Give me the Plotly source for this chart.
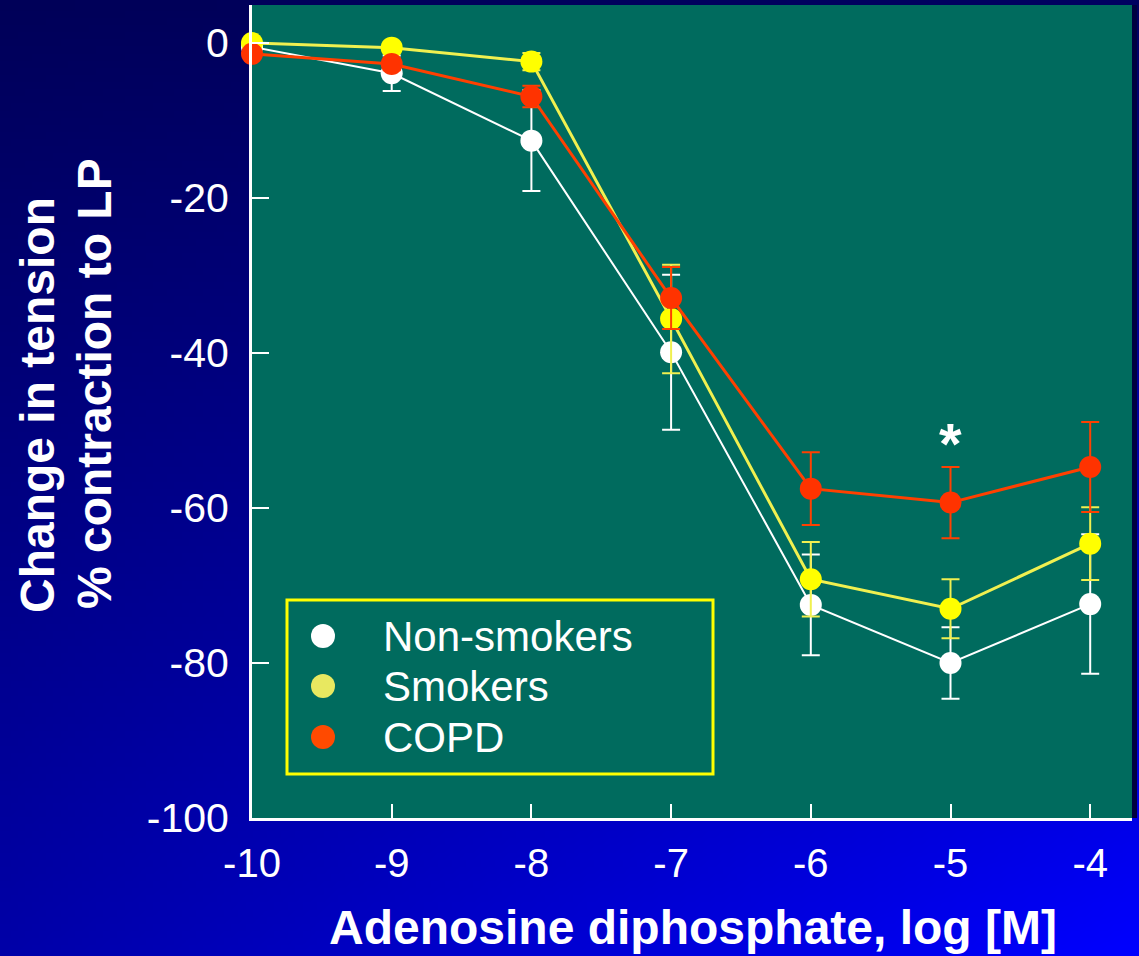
import base64
import struct
import zlib

import plotly.graph_objects as go

# ---- data -------------------------------------------------------------
log_conc = [-10, -9, -8, -7, -6, -5, -4]

nonsmokers = [-0.5, -3.9, -12.6, -39.9, -72.5, -80.0, -72.4]
nonsmokers_err = [0.5, 2.3, 6.5, 10.0, 6.5, 4.6, 9.0]

smokers = [0.0, -0.6, -2.4, -35.6, -69.2, -73.0, -64.6]
smokers_err = [0.3, 0.5, 1.1, 7.0, 4.8, 3.8, 4.7]

copd = [-1.4, -2.7, -6.9, -32.9, -57.5, -59.3, -54.7]
copd_err = [0.5, 0.8, 1.4, 4.0, 4.7, 4.6, 5.8]

y_ticks = [0, -20, -40, -60, -80, -100]
x_ticks = [-10, -9, -8, -7, -6, -5, -4]

legend_names = ["Non-smokers", "Smokers", "COPD"]
legend_colors = ["#FFFFFF", "#E8E860", "#FF4A00"]

# ---- geometry (pixels) ---------------------------------------------------
W, H = 1139, 956
ML, MR, MT, MB = 252, 7, 5, 138
PW, PH = W - ML - MR, H - MT - MB

TEAL = "#006B5E"


def px_x(px):
    return (px - ML) / PW


def px_y(py):
    return (H - MB - py) / PH


# ---- diagonal blue background as an embedded PNG -------------------------
def gradient_png(w, h):
    tl, tr, bl, br = 88, 96, 168, 255
    raw = bytearray()
    for j in range(h):
        v = j / (h - 1)
        raw.append(0)
        for i in range(w):
            u = i / (w - 1)
            b = tl * (1 - u) * (1 - v) + tr * u * (1 - v) + bl * (1 - u) * v + br * u * v
            raw += bytes((0, 0, int(round(b))))

    def chunk(tag, data):
        c = struct.pack(">I", len(data)) + tag + data
        return c + struct.pack(">I", zlib.crc32(tag + data) & 0xFFFFFFFF)

    png = b"\x89PNG\r\n\x1a\n"
    png += chunk(b"IHDR", struct.pack(">IIBBBBB", w, h, 8, 2, 0, 0, 0))
    png += chunk(b"IDAT", zlib.compress(bytes(raw), 9))
    png += chunk(b"IEND", b"")
    return "data:image/png;base64," + base64.b64encode(png).decode()


fig = go.Figure()

series = [
    ("Non-smokers", nonsmokers, nonsmokers_err, "#FFFFFF", "#FFFFFF", 2),
    ("Smokers", smokers, smokers_err, "#F0F050", "#FFFF00", 3),
    ("COPD", copd, copd_err, "#FF4000", "#FF3300", 3),
]
for name, vals, errs, lcol, mcol, lw in series:
    fig.add_trace(
        go.Scatter(
            x=log_conc,
            y=vals,
            name=name,
            mode="lines+markers",
            line=dict(color=lcol, width=lw),
            marker=dict(color=mcol, size=22, line=dict(width=0)),
            error_y=dict(type="data", array=errs, visible=True,
                         color=lcol, thickness=2, width=9),
            showlegend=False,
            cliponaxis=False,
        )
    )

# significance marker
fig.add_annotation(x=-5, y=-50.6, text="<b>*</b>", showarrow=False,
                   font=dict(family="Liberation Sans", size=58, color="white"),
                   yanchor="middle", yshift=-8)

shapes = [
    # drop shadow on the right edge of the plot panel
    dict(type="rect", xref="paper", yref="paper", layer="below",
         x0=0.99, x1=px_x(ML + PW + 5), y0=0, y1=1.0,
         fillcolor="#000040", line=dict(width=0)),
    # teal plot panel
    dict(type="rect", xref="paper", yref="paper", layer="below",
         x0=0, x1=1, y0=0, y1=1,
         fillcolor=TEAL, line=dict(width=0)),
    # legend frame
    dict(type="rect", xref="paper", yref="paper",
         x0=px_x(287), x1=px_x(713), y0=px_y(774), y1=px_y(600),
         line=dict(color="#FFFF00", width=3), fillcolor="rgba(0,0,0,0)"),
]

legend_y = [636, 686, 737]
for name, col, ly in zip(legend_names, legend_colors, legend_y):
    shapes.append(dict(type="circle", xref="paper", yref="paper",
                       xsizemode="pixel", ysizemode="pixel",
                       xanchor=px_x(323), yanchor=px_y(ly),
                       x0=-12, x1=12, y0=-12, y1=12,
                       fillcolor=col, line=dict(width=0)))
    fig.add_annotation(xref="paper", yref="paper", x=px_x(381), y=px_y(ly),
                       xanchor="left", yanchor="middle", text=name,
                       showarrow=False,
                       font=dict(family="Liberation Sans", size=42, color="white"))

# axis titles
fig.add_annotation(xref="paper", yref="paper", x=px_x(693), y=px_y(927),
                   xanchor="center", yanchor="middle", showarrow=False,
                   text="<b>Adenosine diphosphate, log [M]</b>",
                   font=dict(family="Liberation Sans", size=48, color="white"))
fig.add_annotation(xref="paper", yref="paper", x=px_x(37), y=px_y(405),
                   xanchor="center", yanchor="middle", showarrow=False,
                   textangle=-90, text="<b>Change in tension</b>",
                   font=dict(family="Liberation Sans", size=48, color="white"))
fig.add_annotation(xref="paper", yref="paper", x=px_x(94), y=px_y(384),
                   xanchor="center", yanchor="middle", showarrow=False,
                   textangle=-90, text="<b>% contraction to LP</b>",
                   font=dict(family="Liberation Sans", size=48, color="white"))

fig.update_layout(
    width=W,
    height=H,
    margin=dict(l=ML, r=MR, t=MT, b=MB, pad=0),
    paper_bgcolor="#0000A0",
    plot_bgcolor="rgba(0,0,0,0)",
    shapes=shapes,
    images=[dict(source=gradient_png(160, 134), xref="paper", yref="paper",
                 x=px_x(0), y=px_y(0), sizex=W / PW, sizey=H / PH,
                 xanchor="left", yanchor="top", sizing="stretch",
                 layer="below")],
    font=dict(family="Liberation Sans", color="white"),
)

fig.update_xaxes(
    range=[-10, -10 + PW / 139.7],
    tickvals=x_ticks,
    ticktext=[str(v) for v in x_ticks],
    ticks="inside", ticklen=14, tickwidth=2, tickcolor="white",
    showline=True, linecolor="white", linewidth=3,
    showgrid=False, zeroline=False,
    tickfont=dict(family="Liberation Sans", size=40, color="white"),
    ticklabelstandoff=8,
)
fig.update_yaxes(
    range=[-100, -100 + PH / 7.75],
    tickvals=y_ticks,
    ticktext=[str(v) for v in y_ticks],
    ticks="inside", ticklen=17, tickwidth=2, tickcolor="white",
    showline=True, linecolor="white", linewidth=3,
    showgrid=False, zeroline=False,
    tickfont=dict(family="Liberation Sans", size=41, color="white"),
    ticklabelstandoff=12,
)

fig.write_html("out.html")
